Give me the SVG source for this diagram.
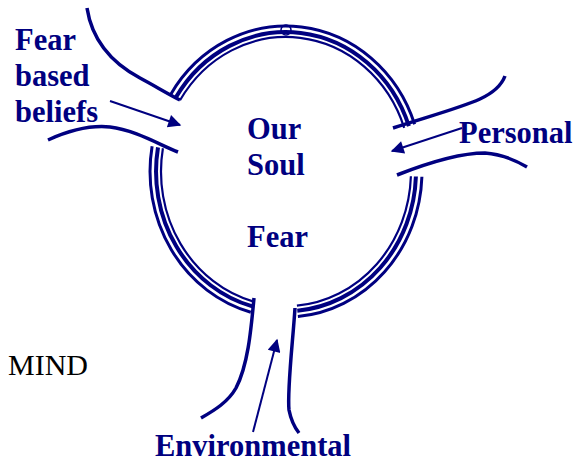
<svg xmlns="http://www.w3.org/2000/svg" width="586" height="464" viewBox="0 0 586 464">
<style>
.lbl{font-family:"Liberation Serif","Times New Roman",serif;font-weight:bold;font-size:30.5px;fill:#000080}
.mind{font-family:"Liberation Serif","Times New Roman",serif;font-size:30px;fill:#000000}
.w{fill:none;stroke:#000080;stroke-width:3.5;stroke-linecap:butt}
.ro{fill:none;stroke:#000080;stroke-width:3}
.rm{fill:none;stroke:#000080;stroke-width:4}
.ri{fill:none;stroke:#000080;stroke-width:2.2}
.ar{fill:none;stroke:#000080;stroke-width:2}
</style>
<defs>
<marker id="ah2" viewBox="0 0 10 10" refX="9" refY="5" markerWidth="17" markerHeight="13" markerUnits="userSpaceOnUse" orient="auto">
<path d="M0,0 L10,5 L0,10 z" fill="#000080"/>
</marker>
</defs>
<rect width="586" height="464" fill="#ffffff"/>
<g id="soul">
<path class="ro" d="M170.7,94.4 A136,145.6 0 0 1 414.6,124.2"/>
<path class="rm" d="M175.8,97.6 A130,139.6 0 0 1 408.9,126.1"/>
<path class="ri" d="M180.0,100.3 A125,134.6 0 0 1 404.2,127.8"/>
<path class="ro" d="M421.9,176.7 A136,145.6 0 0 1 297.9,316.6"/>
<path class="rm" d="M415.9,176.5 A130,139.6 0 0 1 297.3,310.7"/>
<path class="ri" d="M410.9,176.3 A125,134.6 0 0 1 296.9,305.7"/>
<path class="ro" d="M250.8,312.2 A136,145.6 0 0 1 152.1,146.3"/>
<path class="rm" d="M252.4,306.4 A130,139.6 0 0 1 158.0,147.4"/>
<path class="ri" d="M253.6,301.6 A125,134.6 0 0 1 162.9,148.2"/>
<circle cx="286" cy="30" r="5" fill="none" stroke="#000080" stroke-width="1.5"/>
<text class="lbl" x="247" y="139">Our</text>
<text class="lbl" x="247" y="175">Soul</text>
<text class="lbl" x="247" y="247">Fear</text>
</g>
<g id="connectors">
<path class="w" d="M87,8 C92,40 110,62 140,78 C155,86 168,94 180,100"/>
<path class="w" d="M48,140 C70,130 90,125 110,127 C135,130 160,145 178,152"/>
<path class="w" d="M393,128 C430,116 460,108 480,99 C495,92 502,84 505,76"/>
<path class="w" d="M397,175 C430,162 460,153 485,153 C500,154 515,160 527,167"/>
<path class="w" d="M254,298 C251,330 248,365 236,388 C228,402 215,410 201,418"/>
<path class="w" d="M295,308 C293,340 287,390 289,410 C291,420 295,428 299,433"/>
<line class="ar" x1="110" y1="101" x2="180" y2="125" marker-end="url(#ah2)"/>
<line class="ar" x1="462" y1="128" x2="392" y2="151" marker-end="url(#ah2)"/>
<line class="ar" x1="253" y1="432" x2="277" y2="340" marker-end="url(#ah2)"/>
</g>
<g id="labels">
<text class="lbl" x="15" y="50">Fear</text>
<text class="lbl" x="15" y="86">based</text>
<text class="lbl" x="15" y="122">beliefs</text>
<text class="lbl" x="459" y="143">Personal</text>
<text class="lbl" x="155" y="456">Environmental</text>
<text class="mind" x="8" y="375">MIND</text>
</g>
</svg>
